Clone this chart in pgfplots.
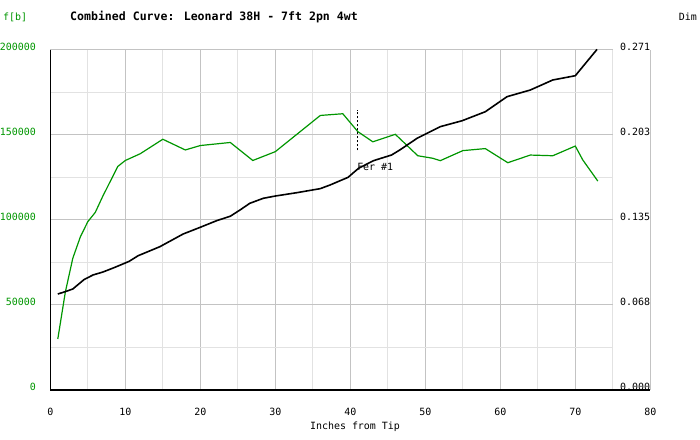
\documentclass[border=0pt]{standalone}
\usepackage{pgfplots}
\pgfplotsset{compat=1.18}
\usepackage{pgfplotstable}
\usepackage{fontspec}
\setmainfont{DejaVu Sans Mono}
\definecolor{fgreen}{RGB}{0,150,0}
\definecolor{gmaj}{RGB}{195,195,195}
\definecolor{gmin}{RGB}{226,226,226}

\pgfplotstableread{
x y
1 30000
2 57500
3 77500
4 90000
5 99000
6 104500
7 114000
9 131500
10 135000
12 139000
15 147500
18 141200
20 143800
24 145600
27 135000
30 140200
36 161500
39 162500
41 152000
43 146000
46 150400
49 137800
51 136300
52 134900
55 140800
58 142000
61 133700
64 138200
67 137800
70 143500
71 135300
73 122900
}\forcetable

\pgfplotstableread{
x y
1 0.0765
2 0.0784
3 0.0805
4.5 0.0880
5.7 0.0917
7 0.0940
8.5 0.0975
10.5 0.1025
11.7 0.1070
14.6 0.1142
17.7 0.1243
20 0.1297
22.2 0.1350
24 0.1385
25.3 0.1435
26.6 0.1488
28.4 0.1528
30 0.1546
32.9 0.1573
36 0.1605
37.3 0.1634
39.7 0.1695
41.1 0.1767
43.1 0.1828
45.5 0.1873
46.6 0.1913
48.9 0.2006
52 0.2099
54.9 0.2146
58 0.2218
60.9 0.2338
64 0.2391
67 0.2471
70 0.2505
72.9 0.2715
}\dimtable

\begin{document}
\begin{tikzpicture}
\path[use as bounding box] (0bp,0bp) rectangle (700bp,440bp);
\node[anchor=west, text=fgreen, font=\fontsize{10}{12}\selectfont, inner sep=0pt] at (3bp,423bp) {f[b]};
\node[anchor=west, font=\bfseries\fontsize{11.6}{13}\selectfont, inner sep=0pt] at (70bp,423bp) {Combined Curve: Leonard 38H - 7ft 2pn 4wt};
\node[anchor=east, font=\fontsize{10}{12}\selectfont, inner sep=0pt] at (697bp,423bp) {Dim};
\node[anchor=center, font=\fontsize{10}{12}\selectfont, inner sep=0pt] at (355bp,13.3bp) {Inches from Tip};

\begin{axis}[
  at={(50.3bp,50bp)}, anchor=south west,
  scale only axis, width=600bp, height=340bp,
  xmin=0, xmax=80, ymin=0, ymax=200000,
  axis line style={draw=none},
  xtick={0,10,...,80},
  xticklabels={0,10,20,30,40,50,60,70,80},
  minor xtick={5,15,...,75},
  xmajorgrids, xminorgrids,
  major grid style={gmaj, line width=1bp},
  minor grid style={gmin, line width=1bp},
  ytick={0,50000,100000,150000,200000},
  yticklabels={0,50000,100000,150000,200000},
  scaled y ticks=false,
  major tick length=0pt, minor tick length=0pt,
  tick label style={font=\fontsize{10}{12}\selectfont},
  xticklabel style={anchor=center, inner sep=0pt, yshift=-21.7bp},
  yticklabel style={anchor=east, inner sep=0pt, xshift=-14.3bp, yshift=3bp, text=fgreen},
  clip=false,
]
\foreach \yy in {25000,75000,125000,175000} {
  \edef\tmp{\noexpand\draw[gmin, line width=1bp] (axis cs:0,\yy) -- (axis cs:75,\yy);}\tmp
}
\foreach \yy in {50000,100000,150000,200000} {
  \edef\tmp{\noexpand\draw[gmaj, line width=1bp] (axis cs:0,\yy) -- (axis cs:75,\yy);}\tmp
}
\draw[black, line width=1.5bp] (rel axis cs:0,1) -- (rel axis cs:0,0) -- (rel axis cs:1,0);
\addplot[fgreen, line width=1.2bp, mark=none] table[x=x,y=y] {\forcetable};
\addplot[black, line width=1bp, dash pattern=on 2bp off 2bp, mark=none] coordinates {(40.9,141000) (40.9,164700)};
\node[anchor=west, inner sep=0pt, font=\fontsize{10}{12}\selectfont] at (axis cs:40.9,131200) {Fer \#1};
\end{axis}

\begin{axis}[
  at={(50.3bp,50bp)}, anchor=south west,
  scale only axis, width=600bp, height=340bp,
  xmin=0, xmax=80, ymin=0, ymax=0.271,
  hide x axis,
  axis y line*=right,
  y axis line style={draw=none},
  ytick={0,0.06775,0.1355,0.20325,0.271},
  yticklabels={0.000,0.068,0.135,0.203,0.271},
  scaled y ticks=false,
  major tick length=0pt,
  tick label style={font=\fontsize{10}{12}\selectfont},
  yticklabel style={anchor=east, inner sep=0pt, xshift=0bp, yshift=3bp, text=black},
  clip=false,
]
\addplot[black, line width=1.6bp, mark=none] table[x=x,y=y] {\dimtable};
\end{axis}
\end{tikzpicture}
\end{document}
